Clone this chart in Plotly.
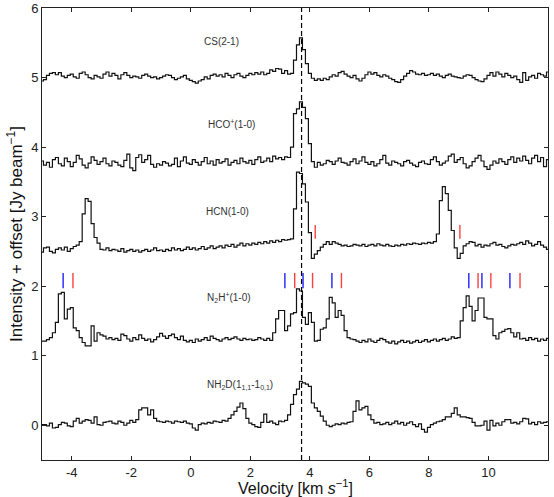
import numpy as np
import plotly.graph_objects as go

# ---------------- data ----------------
v_start = -5.0          # km/s, first channel
dv = 0.1                # km/s, channel width
v_lsr = 3.72            # systemic velocity (dashed line)

cs21 = [
    4.95, 4.97, 5.03, 5.06, 5.07, 5.04, 5.07, 5.02, 5.00, 5.03,
    5.05, 5.01, 4.99, 5.06, 5.08, 5.04, 5.00, 4.98, 5.03, 5.01,
    4.99, 5.05, 5.08, 5.02, 5.06, 5.03, 4.98, 5.04, 5.07, 5.03,
    5.00, 5.02, 5.01, 4.99, 5.03, 5.05, 5.02, 5.00, 5.01, 4.98,
    5.00, 5.02, 5.04, 5.03, 5.00, 4.97, 4.99, 5.01, 5.03, 4.98,
    4.96, 4.94, 4.92, 4.95, 4.97, 5.01, 4.98, 5.03, 5.05, 5.02,
    5.04, 5.01, 5.06, 5.03, 5.00, 5.04, 5.06, 5.02, 5.00, 5.03,
    5.06, 5.04, 5.07, 5.05, 5.08, 5.04, 5.06, 5.11, 5.09, 5.13,
    5.12, 5.06, 5.10, 5.05, 5.06, 5.25, 5.47, 5.57, 5.40, 5.20,
    5.06, 4.99, 4.96, 4.98, 4.96, 4.99, 4.97, 5.01, 5.04, 5.02,
    5.07, 5.09, 5.05, 5.02, 5.00, 5.03, 4.98, 4.95, 4.99, 5.04,
    5.08, 5.05, 5.07, 5.03, 5.01, 5.04, 5.02, 4.99, 4.97, 4.94,
    4.93, 4.97, 5.02, 5.06, 5.10, 5.08, 5.05, 5.04, 5.06, 5.03,
    5.04, 5.06, 5.03, 5.05, 5.02, 5.00, 5.03, 5.05, 5.02, 5.01,
    5.00, 4.99, 5.02, 5.04, 5.03, 5.00, 4.97, 4.95, 4.94, 4.98,
    5.03, 5.07, 5.02, 5.08, 5.05, 5.01, 5.06, 5.03, 5.00, 5.02,
    4.97, 4.93, 5.07, 4.96, 5.01, 5.03, 4.99, 5.06, 5.04, 5.02,
    5.08,
]

hcop10 = [
    3.80, 3.74, 3.78, 3.71, 3.82, 3.85, 3.76, 3.73, 3.84, 3.79,
    3.72, 3.78, 3.88, 3.83, 3.74, 3.70, 3.77, 3.86, 3.81, 3.75,
    3.79, 3.84, 3.76, 3.73, 3.80, 3.78, 3.74, 3.72, 3.81, 3.90,
    3.70, 3.66, 3.85, 3.89, 3.78, 3.82, 3.88, 3.75, 3.71, 3.76,
    3.74, 3.79, 3.77, 3.73, 3.75, 3.84, 3.72, 3.80, 3.86, 3.77,
    3.75, 3.82, 3.78, 3.74, 3.79, 3.85, 3.76, 3.80, 3.74, 3.82,
    3.77, 3.79, 3.83, 3.74, 3.78, 3.81, 3.76, 3.84, 3.79, 3.77,
    3.81, 3.75, 3.82, 3.86, 3.78, 3.80, 3.84, 3.79, 3.87, 3.83,
    3.85, 3.82, 3.86, 3.85, 4.00, 4.48, 4.55, 4.65, 4.57, 4.41,
    4.05, 3.79, 3.71, 3.78, 3.74, 3.76, 3.81, 3.79, 3.75, 3.80,
    3.84, 3.78, 3.77, 3.74, 3.79, 3.83, 3.76, 3.80, 3.86, 3.78,
    3.75, 3.79, 3.73, 3.76, 3.82, 3.88, 3.77, 3.74, 3.80, 3.78,
    3.76, 3.73, 3.79, 3.81, 3.77, 3.74, 3.72, 3.78, 3.80, 3.76,
    3.75, 3.82, 3.86, 3.79, 3.74, 3.77, 3.80, 3.87, 3.90, 3.78,
    3.82, 3.85, 3.76, 3.70, 3.73, 3.79, 3.84, 3.88, 3.80, 3.72,
    3.68, 3.74, 3.80, 3.77, 3.83, 3.79, 3.75, 3.82, 3.86, 3.78,
    3.84, 3.80, 3.87, 3.81, 3.76, 3.84, 3.88, 3.79, 3.85, 3.72,
    3.82,
]

hcn10 = [
    2.49, 2.55, 2.56, 2.50, 2.48, 2.53, 2.55, 2.52, 2.56, 2.50,
    2.54, 2.57, 2.59, 2.64, 3.04, 3.26, 3.22, 2.90, 2.70, 2.62,
    2.53, 2.52, 2.55, 2.51, 2.53, 2.52, 2.50, 2.54, 2.49, 2.51,
    2.53, 2.50, 2.52, 2.49, 2.51, 2.53, 2.50, 2.52, 2.55, 2.51,
    2.52, 2.50, 2.53, 2.51, 2.55, 2.52, 2.54, 2.51, 2.53, 2.56,
    2.53, 2.55, 2.52, 2.54, 2.57, 2.53, 2.55, 2.58, 2.54, 2.56,
    2.58, 2.55, 2.59, 2.57, 2.60, 2.56, 2.59, 2.62, 2.58, 2.61,
    2.59, 2.62, 2.60, 2.63, 2.61, 2.64, 2.62, 2.65, 2.63, 2.66,
    2.64, 2.67, 2.66, 2.67, 2.68, 3.11, 3.64, 3.62, 3.47, 3.21,
    2.77, 2.40, 2.46, 2.51, 2.56, 2.60, 2.64, 2.60, 2.64, 2.62,
    2.60, 2.58, 2.59, 2.57, 2.58, 2.60, 2.59, 2.58, 2.60, 2.57,
    2.59, 2.60, 2.58, 2.61, 2.59, 2.58, 2.60, 2.58, 2.57, 2.59,
    2.58, 2.60, 2.59, 2.61, 2.60, 2.62, 2.61, 2.60, 2.62, 2.61,
    2.63, 2.62, 2.64, 2.75, 3.23, 3.43, 3.33, 3.09, 2.80, 2.55,
    2.40, 2.47, 2.58, 2.61, 2.64, 2.63, 2.58, 2.60, 2.56, 2.59,
    2.58, 2.61, 2.63, 2.59, 2.60, 2.57, 2.55, 2.58, 2.60, 2.59,
    2.61, 2.63, 2.60, 2.65, 2.62, 2.58, 2.60, 2.64, 2.59, 2.56,
    2.53,
]

n2hp10 = [
    1.21, 1.21, 1.23, 1.26, 1.33, 1.48, 1.89, 1.91, 1.53, 1.67,
    1.69, 1.40, 1.36, 1.26, 1.19, 1.14, 1.14, 1.43, 1.21, 1.33,
    1.30, 1.28, 1.24, 1.26, 1.23, 1.25, 1.22, 1.31, 1.29, 1.24,
    1.21, 1.26, 1.23, 1.30, 1.25, 1.22, 1.24, 1.20, 1.23, 1.27,
    1.32, 1.28, 1.25, 1.29, 1.31, 1.26, 1.23, 1.28, 1.22, 1.20,
    1.22, 1.19, 1.24, 1.21, 1.23, 1.26, 1.22, 1.28, 1.25, 1.23,
    1.21, 1.24, 1.26, 1.23, 1.25, 1.27, 1.24, 1.22, 1.25, 1.23,
    1.24, 1.22, 1.23, 1.26, 1.24, 1.22, 1.25, 1.22, 1.33, 1.53,
    1.65, 1.65, 1.36, 1.43, 1.60, 1.62, 1.96, 1.93, 1.55, 1.45,
    1.62, 1.48, 1.21, 1.22, 1.38, 1.40, 1.53, 1.84, 1.76, 1.55,
    1.65, 1.58, 1.36, 1.26, 1.24, 1.23, 1.21, 1.19, 1.22, 1.20,
    1.24, 1.21, 1.19, 1.22, 1.25, 1.23, 1.20, 1.18, 1.21, 1.17,
    1.20, 1.22, 1.19, 1.21, 1.18, 1.20, 1.22, 1.19, 1.21, 1.23,
    1.20, 1.22, 1.24, 1.21, 1.23, 1.25, 1.22, 1.24, 1.27, 1.25,
    1.26, 1.50, 1.69, 1.86, 1.71, 1.50, 1.65, 1.83, 1.83, 1.55,
    1.53, 1.53, 1.29, 1.24, 1.33, 1.35, 1.38, 1.39, 1.33, 1.27,
    1.33, 1.24, 1.25, 1.22, 1.26, 1.23, 1.25, 1.21, 1.24, 1.22,
    1.25,
]

nh2d = [
    0.01, 0.01, -0.01, 0.03, -0.04, -0.03, 0.01, 0.04, 0.03, -0.01,
    -0.02, 0.06, 0.10, 0.03, 0.06, 0.08, 0.07, 0.03, 0.12, 0.01,
    0.00, 0.04, 0.05, 0.06, 0.03, 0.02, 0.06, 0.04, 0.00, 0.03,
    0.07, 0.04, 0.08, 0.22, 0.25, 0.25, 0.15, 0.22, 0.10, 0.06,
    0.05, 0.04, 0.06, 0.05, 0.03, 0.06, 0.05, 0.04, 0.06, 0.03,
    0.02, -0.04, -0.07, 0.01, 0.03, 0.02, 0.04, 0.03, 0.06, 0.05,
    0.04, 0.07, 0.06, 0.10, 0.15, 0.20, 0.26, 0.32, 0.24, 0.10,
    0.03, 0.01, -0.02, -0.03, 0.04, 0.16, 0.04, 0.06, 0.03, 0.01,
    0.06, 0.05, 0.07, 0.15, 0.30, 0.44, 0.52, 0.63, 0.61, 0.59,
    0.56, 0.32, 0.25, 0.20, 0.13, 0.06, 0.00, -0.02, 0.00, 0.02,
    0.01, 0.03, 0.02, 0.04, 0.05, 0.20, 0.35, 0.22, 0.25, 0.27,
    0.15, 0.08, 0.03, 0.04, 0.01, 0.02, 0.04, 0.01, 0.03, 0.06,
    0.02, 0.04, 0.00, 0.03, 0.05, 0.01, -0.02, 0.02, -0.06, -0.10,
    -0.03, 0.01, 0.03, 0.05, 0.06, 0.08, 0.12, 0.12, 0.17, 0.25,
    0.15, 0.12, 0.12, 0.11, 0.10, 0.04, -0.01, -0.01, 0.00, 0.06,
    -0.07, 0.07, -0.01, 0.03, 0.00, 0.05, 0.08, 0.08, 0.03, 0.04,
    0.02, 0.05, 0.10, 0.09, 0.02, 0.04, 0.01, 0.05, 0.03, 0.04,
    0.05,
]

# hyperfine component markers (km/s) and their vertical extents
n2hp_blue_v = [-4.29, 3.16, 3.77, 4.74, 9.34, 9.78, 10.72]
n2hp_red_v = [-3.96, 3.49, 4.09, 5.06, 9.65, 10.08, 11.06]
n2hp_tick_y = [1.97, 2.19]
hcn_red_v = [4.18, 9.04]
hcn_tick_y = [2.68, 2.88]

labels = ["CS(2-1)", "HCO<sup>+</sup>(1-0)", "HCN(1-0)",
          "N<sub>2</sub>H<sup>+</sup>(1-0)",
          "NH<sub>2</sub>D(1<sub>1,1</sub>-1<sub>0,1</sub>)"]
label_x = [1.03, 1.35, 1.22, 1.29, 1.66]
label_y = [5.52, 4.33, 3.07, 1.84, 0.58]

x_title = "Velocity [km <i>s</i><sup>−1</sup>]"
y_title = "Intensity + offset [Jy beam<sup>−1</sup>]"
x_ticks = [-4, -2, 0, 2, 4, 6, 8, 10, 12]
y_ticks = [0, 1, 2, 3, 4, 5, 6]
x_range = [-5, 12]
y_range = [-0.5, 6]

# ---------------- figure ----------------
velocity = np.round(v_start + dv * np.arange(len(cs21)), 3)
FONT = "Liberation Sans, Arial, sans-serif"

fig = go.Figure()
for spec in [cs21, hcop10, hcn10, n2hp10, nh2d]:
    fig.add_trace(go.Scatter(
        x=velocity, y=spec, mode="lines",
        line=dict(shape="hvh", color="#111111", width=1.2),
        hoverinfo="skip", showlegend=False))


def tick_segments(vs, yr):
    xs, ys = [], []
    for v in vs:
        xs += [v, v, None]
        ys += [yr[0], yr[1], None]
    return xs, ys


for vs, yr, col in [(n2hp_blue_v, n2hp_tick_y, "#2020ff"),
                    (n2hp_red_v, n2hp_tick_y, "#ff4040"),
                    (hcn_red_v, hcn_tick_y, "#ff4040")]:
    xs, ys = tick_segments(vs, yr)
    fig.add_trace(go.Scatter(x=xs, y=ys, mode="lines",
                             line=dict(color=col, width=1.4),
                             hoverinfo="skip", showlegend=False))

fig.add_shape(type="line", x0=v_lsr, x1=v_lsr, y0=0, y1=1,
              xref="x", yref="paper",
              line=dict(color="black", width=1.2, dash="5px,3px"))

for txt, lx, ly in zip(labels, label_x, label_y):
    fig.add_annotation(x=lx, y=ly, text=txt, showarrow=False,
                       font=dict(size=10, color="#333333", family=FONT))

# axis titles as annotations for exact placement
fig.add_annotation(x=0.5, y=0, xref="paper", yref="paper", text=x_title,
                   showarrow=False, yanchor="top", yshift=-15,
                   font=dict(size=16, color="#111111", family=FONT))
fig.add_annotation(x=0, y=0.5, xref="paper", yref="paper", text=y_title,
                   showarrow=False, textangle=-90, xanchor="center",
                   xshift=-27,
                   font=dict(size=17, color="#111111", family=FONT))

axis_common = dict(showline=True, linecolor="#222222", linewidth=1,
                   mirror="ticks", ticks="inside", ticklen=4,
                   tickcolor="#222222", showgrid=False, zeroline=False,
                   automargin=False,
                   tickfont=dict(size=13, color="#222222", family=FONT))

fig.update_xaxes(range=x_range, tickvals=x_ticks,
                 ticktext=[str(t) for t in x_ticks], **axis_common)
fig.update_yaxes(range=y_range, tickvals=y_ticks,
                 ticktext=[str(t) for t in y_ticks], **axis_common)

fig.update_layout(
    width=554, height=497,
    margin=dict(l=42, r=6, t=8, b=37, autoexpand=False),
    paper_bgcolor="white", plot_bgcolor="white",
    font=dict(family=FONT),
)

fig.write_html("out.html",
               config={"displayModeBar": False},
               post_script="document.body.style.margin='0px';"
                           "document.body.style.overflow='hidden';")
